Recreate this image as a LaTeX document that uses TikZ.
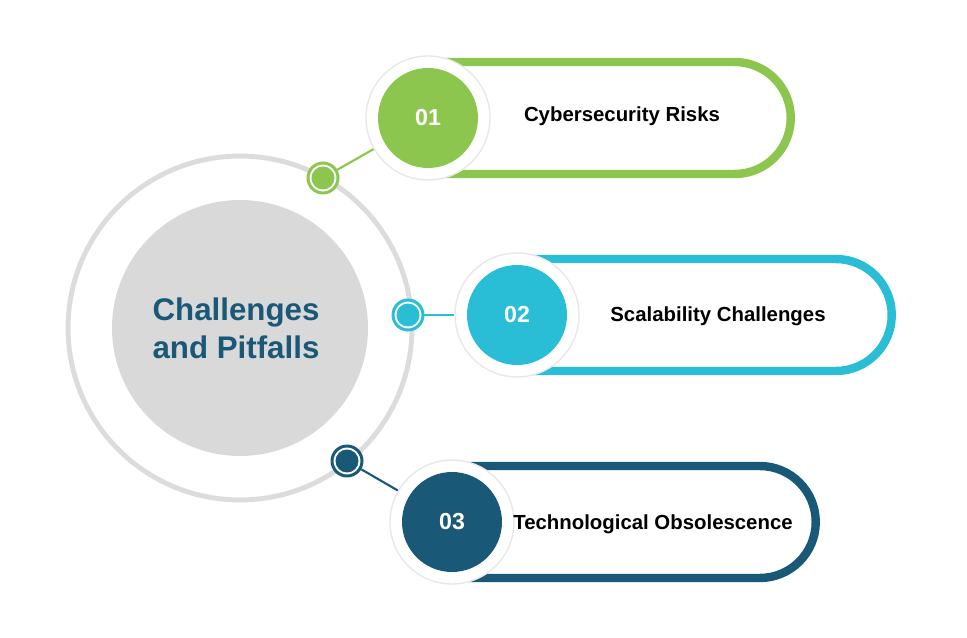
\documentclass[tikz,border=0pt]{standalone}
\usepackage{fontspec}
\setmainfont{Liberation Sans}

\definecolor{leaf}{RGB}{141,198,78}
\definecolor{sky}{RGB}{41,189,214}
\definecolor{navy}{RGB}{26,88,119}
\definecolor{ring}{RGB}{220,220,220}
\definecolor{core}{RGB}{217,217,217}

\tikzset{
  pill/.style={draw=#1, line width=4.8pt, rounded corners=1.12cm,
    minimum height=2.24cm, inner sep=0pt},
  halo/.style={circle, fill=white, draw=black!9, line width=0.8pt,
    minimum size=2.48cm, inner sep=0pt},
  num/.style={circle, fill=#1, minimum size=2cm, inner sep=0pt, text=white,
    font=\bfseries\fontsize{13.2}{14}\selectfont},
  dotring/.style={circle, draw=#1, fill=white, line width=1.7pt,
    minimum size=0.6cm, inner sep=0pt},
  dotcore/.style={circle, fill=#1, minimum size=0.46cm, inner sep=0pt},
  link/.style={draw=#1, line width=1.2pt},
  itemtext/.style={font=\bfseries\fontsize{11.6}{13}\selectfont, text=black},
}

\begin{document}
\begin{tikzpicture}[x=0.02cm, y=-0.02cm]
\useasboundingbox (0,0) rectangle (967,638);

% centre
\node[circle, draw=ring, line width=2.8pt, minimum size=6.88cm, inner sep=0pt] (outer) at (240,328) {};
\node[circle, fill=core, minimum size=5.12cm, inner sep=0pt] (centre) at (240,328) {};
\node[align=center, text=navy, font=\bfseries\fontsize{17.8}{21.6}\selectfont] (title) at (236,328) {Challenges\\and Pitfalls};

% items
\node[pill=leaf, minimum width=8.375cm] (p1) at (581.4,118) {};
\node[pill=sky, minimum width=8.615cm] (p2) at (676.4,315) {};
\node[pill=navy, minimum width=8.395cm] (p3) at (605.9,522) {};

\node[halo] (h1) at (428,118) {};
\node[halo] (h2) at (517,315) {};
\node[halo] (h3) at (452,522) {};

\node[num=leaf] (n1) at (h1) {01};
\node[num=sky] (n2) at (h2) {02};
\node[num=navy] (n3) at (h3) {03};

\node[itemtext] (t1) at (622,116) {Cybersecurity Risks};
\node[itemtext] (t2) at (718,316) {Scalability Challenges};
\node[itemtext] (t3) at (653,524) {Technological Obsolescence};

% dots on the ring
\node[dotring=leaf] (d1) at (323,178) {};
\node[dotring=sky] (d2) at (408,315) {};
\node[dotring=navy] (d3) at (347,461) {};
\node[dotcore=leaf] (c1) at (d1) {};
\node[dotcore=sky] (c2) at (d2) {};
\node[dotcore=navy] (c3) at (d3) {};

\draw[link=leaf] (d1) -- (h1);
\draw[link=sky] (d2) -- (h2);
\draw[link=navy] (d3) -- (h3);
\end{tikzpicture}
\end{document}
